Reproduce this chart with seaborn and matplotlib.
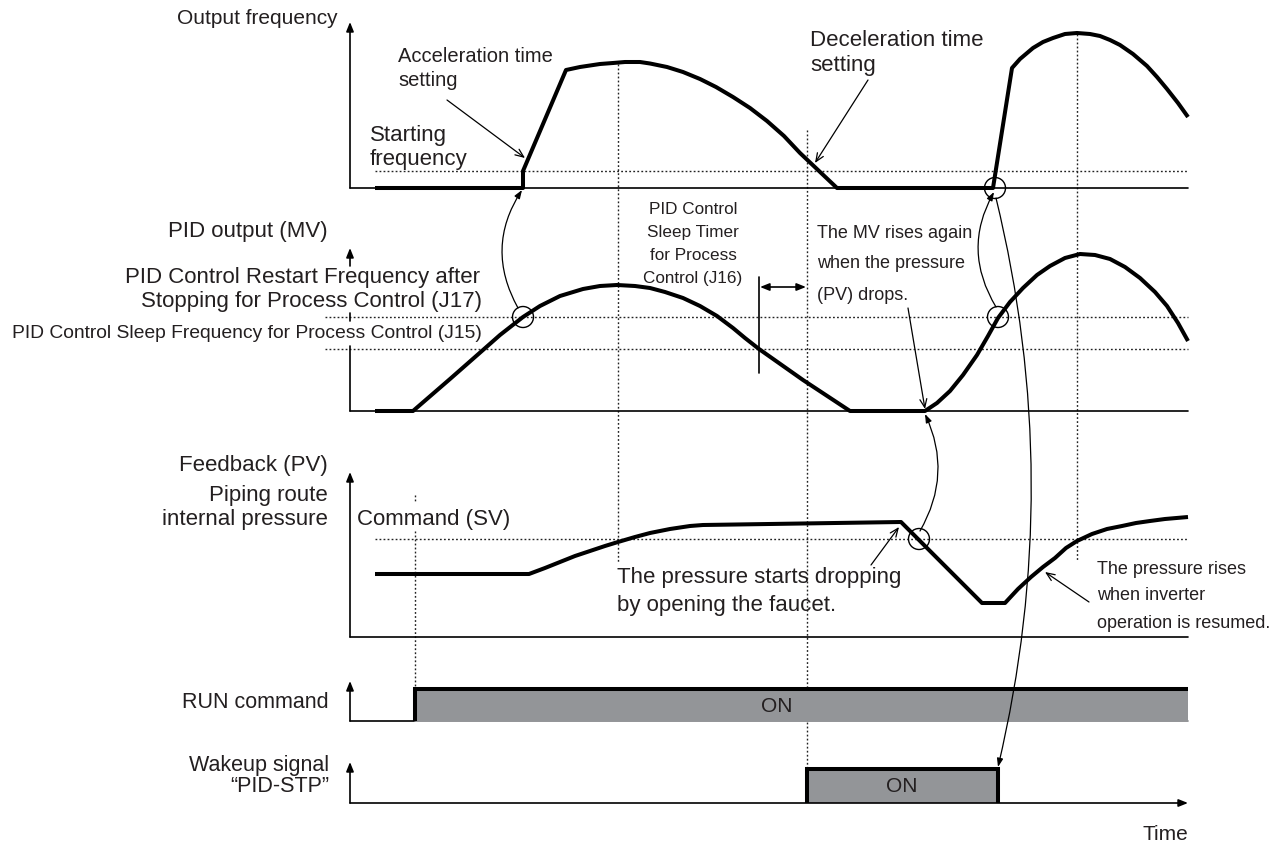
import numpy as np
import pandas as pd
import matplotlib
matplotlib.use("Agg")
import matplotlib.pyplot as plt
import seaborn as sns
from matplotlib.patches import FancyArrowPatch, Circle

# ---------------- data (time in diagram units, level = height above panel baseline) -------------
freq_time = [375, 523, 523, 566, 580, 600, 613, 625, 640, 650, 667, 683, 700, 716, 733, 750, 767,
             784, 800, 837, 993, 1012, 1020, 1033, 1043, 1053, 1065, 1077, 1090, 1100, 1110,
             1120, 1133, 1147, 1157, 1167, 1178, 1188]
freq_level = [0, 0, 17, 118, 121, 124, 125, 126, 126, 124.5, 121, 116, 109, 101, 91, 80, 67,
              52, 35, 0, 0, 120, 129, 140, 146, 150, 154, 155, 154, 152, 148,
              143, 134, 122, 111, 99, 85, 71]

pid_time = [375, 413, 450, 483, 500, 523, 540, 560, 583, 600, 617, 635, 650, 665, 683, 700,
            717, 733, 745, 759, 803, 850, 925, 937, 950, 963, 977, 988, 998, 1010, 1023,
            1037, 1050, 1065, 1080, 1095, 1110, 1125, 1140, 1155, 1167, 1178, 1188]
pid_level = [0, 0, 32, 61, 76, 94, 105, 115, 122, 125, 126, 125, 123, 119, 113, 105,
             95, 83, 73, 62, 31, 0, 0, 8, 20, 36, 56, 75, 93, 109, 123,
             136, 145, 153, 157, 156, 152, 144, 133, 119, 105, 88, 70]

pv_time = [375, 529, 545, 560, 575, 590, 605, 618, 635, 650, 670, 690, 703, 901, 982, 1005,
           1018, 1031, 1043, 1055, 1066, 1077, 1092, 1107, 1122, 1136, 1150, 1165, 1188]
pv_level = [63, 63, 69, 75, 81, 86, 91, 95, 100, 104, 108, 111, 112, 115, 34, 34,
            48, 60, 70, 79, 89, 96, 103, 108, 111, 114, 116, 118, 120]

run_time = [350, 415, 415, 1188]
run_state = [0, 0, 1, 1]
stp_time = [350, 807, 807, 998, 998, 1188]
stp_state = [0, 0, 1, 1, 0, 0]

start_freq_level = 17      # Starting frequency
restart_level = 94         # J17
sleep_level = 62           # J15
sv_level = 98              # Command (SV)

t_peak1, t_sleep_start, t_sleep_end, t_peak2, t_run = 618, 759, 807, 1077, 415

# ---------------- layout ----------------
BASE = dict(freq=188, pid=411, pv=637, run=721, stp=803)
ON_H = dict(run=32, stp=34)
AX_X, T0, T_END = 350, 375, 1188

sns.set_theme(style="white")
plt.rcParams['font.family'] = ['Liberation Sans', 'DejaVu Sans']

fig = plt.figure(figsize=(12.83, 8.48), dpi=100)
ax = fig.add_axes([0, 0, 1, 1])

K = 'black'
THIN = 1.2
THICK = 2.9
DOT = dict(ls=(0, (1.3, 1.6)), lw=1.0, color='#222222', zorder=1)


def yv(panel, level):
    return BASE[panel] - level


def trace(time, level, panel):
    df = pd.DataFrame({'t': time, 'y': [yv(panel, v) for v in level]})
    sns.lineplot(data=df, x='t', y='y', ax=ax, sort=False, estimator=None,
                 color=K, lw=THICK, solid_capstyle='butt', solid_joinstyle='round', zorder=4)


def arrow(p0, p1, style='-|>,head_length=0.55,head_width=0.22', lw=THIN, rad=0.0, ms=10, z=3):
    a = FancyArrowPatch(p0, p1, arrowstyle=style, mutation_scale=ms, lw=lw, color=K,
                        shrinkA=0, shrinkB=0, connectionstyle=f'arc3,rad={rad}', zorder=z)
    ax.add_patch(a)


def hline(y, x0, x1, **kw):
    ax.plot([x0, x1], [y, y], **kw)


def vline(x, y0, y1, **kw):
    ax.plot([x, x], [y0, y1], **kw)


def txt(x, y, s, size, ha='left'):
    ax.text(x, y, s, fontsize=size, ha=ha, va='center', color='#231f20', zorder=6)


# ---------------- axes of each panel ----------------
arrow((AX_X, BASE['freq']), (AX_X, 22))
hline(BASE['freq'], AX_X, T_END, color=K, lw=THIN)
# PID panel axis is partly hidden behind labels
arrow((AX_X, 266), (AX_X, 248))
vline(AX_X, 313, 321, color=K, lw=THIN)
vline(AX_X, 346, BASE['pid'], color=K, lw=THIN)
hline(BASE['pid'], AX_X, T_END, color=K, lw=THIN)
arrow((AX_X, BASE['pv']), (AX_X, 472))
hline(BASE['pv'], AX_X, T_END, color=K, lw=THIN)
arrow((AX_X, BASE['run']), (AX_X, 681))
hline(BASE['run'], AX_X, t_run, color=K, lw=THIN)
hline(BASE['run'], t_run, T_END, color='#808285', lw=THIN)
arrow((AX_X, BASE['stp']), (AX_X, 762))
arrow((AX_X, BASE['stp']), (T_END, BASE['stp']))

# ---------------- reference dotted lines ----------------
hline(yv('freq', start_freq_level), T0, T_END, **DOT)
hline(yv('pid', restart_level), 325, T_END, **DOT)
hline(yv('pid', sleep_level), 325, T_END, **DOT)
hline(yv('pv', sv_level), T0, T_END, **DOT)
vline(t_peak1, 64, 562, **DOT)
vline(t_sleep_end, 130, 768, **DOT)
vline(t_peak2, 34, 560, **DOT)
vline(t_run, 495, 503, **DOT)
vline(t_run, 531, 689, **DOT)

# ---------------- waveforms ----------------
trace(freq_time, freq_level, 'freq')
trace(pid_time, pid_level, 'pid')
trace(pv_time, pv_level, 'pv')

GRAY = '#939598'
for name, tt, ss in (('run', run_time, run_state), ('stp', stp_time, stp_state)):
    b, h = BASE[name], ON_H[name]
    ax.fill_between(tt, [b - s * h for s in ss], b, color=GRAY, lw=0, zorder=2)
    n = len(tt)
    idx = [i for i in range(n)
           if ss[i] == 1 or (i > 0 and ss[i - 1] == 1 and tt[i - 1] == tt[i])
           or (i < n - 1 and ss[i + 1] == 1 and tt[i + 1] == tt[i])]
    ax.plot([tt[i] for i in idx], [b - ss[i] * h for i in idx], color=K, lw=THICK,
            solid_joinstyle='miter', solid_capstyle='butt', zorder=4)

# sleep timer marker
vline(t_sleep_start, 277, 373, color=K, lw=THIN, zorder=4)
arrow((t_sleep_start + 1, 287), (t_sleep_end - 1, 287), style='<|-|>,head_length=0.55,head_width=0.22')

# ---------------- circles and linking arrows ----------------
for cx, cy in ((523, yv('pid', restart_level)), (995, BASE['freq']),
               (998, yv('pid', restart_level)), (919, yv('pv', sv_level))):
    ax.add_patch(Circle((cx, cy), 10.5, fill=False, lw=1.0, ec=K, zorder=5))

SMALL = '-|>,head_length=0.5,head_width=0.18'
arrow((518, 308), (522, 190), style=SMALL, lw=0.9, rad=-0.3)
arrow((996, 307), (994, 192), style=SMALL, lw=0.9, rad=-0.29)
arrow((996, 198), (998, 767), style=SMALL, lw=0.9, rad=-0.12)
arrow((920, 531), (925, 414), style=SMALL, lw=0.9, rad=0.26)

OPEN = '->,head_length=0.6,head_width=0.25'
arrow((447, 100), (525, 158), style=OPEN, lw=0.9)
arrow((868, 80), (815, 163), style=OPEN, lw=0.9)
arrow((908, 308), (925, 409), style=OPEN, lw=0.9)
arrow((871, 565), (899, 527), style=OPEN, lw=0.9)
arrow((1089, 602), (1045, 572), style=OPEN, lw=0.9)

# ---------------- texts ----------------
txt(338, 18, 'Output frequency', 15, 'right')
txt(398, 56, 'Acceleration time', 14.5)
txt(398, 80, 'setting', 14.5)
txt(370, 135, 'Starting', 16)
txt(370, 160, 'frequency', 16)
txt(810, 40, 'Deceleration time', 16)
txt(810, 65, 'setting', 16)

txt(328, 232, 'PID output (MV)', 16, 'right')
txt(480, 277, 'PID Control Restart Frequency after', 16, 'right')
txt(482, 302, 'Stopping for Process Control (J17)', 16, 'right')
txt(482, 333, 'PID Control Sleep Frequency for Process Control (J15)', 13.9, 'right')
for yy, s in zip((209, 233, 256, 278), ('PID Control', 'Sleep Timer', 'for Process', 'Control (J16)')):
    txt(693, yy, s, 12.3, 'center')
for yy, s in zip((233, 263, 295), ('The MV rises again', 'when the pressure', '(PV) drops.')):
    txt(817, yy, s, 13)

txt(328, 465, 'Feedback (PV)', 16, 'right')
txt(328, 496, 'Piping route', 16, 'right')
txt(328, 520, 'internal pressure', 16, 'right')
txt(357, 519, 'Command (SV)', 16)
txt(617, 577, 'The pressure starts dropping', 16)
txt(617, 605, 'by opening the faucet.', 16)
for yy, s in zip((569, 596, 623), ('The pressure rises', 'when inverter', 'operation is resumed.')):
    txt(1097, yy, s, 13)

txt(329, 702, 'RUN command', 15.5, 'right')
txt(329, 765, 'Wakeup signal', 15.5, 'right')
txt(329, 786, '\u201cPID-STP\u201d', 15.5, 'right')
txt(777, 706, 'ON', 15, 'center')
txt(902, 787, 'ON', 15, 'center')
txt(1188, 834, 'Time', 15, 'right')

ax.set_xlim(0, 1283)
ax.set_ylim(848, 0)
ax.axis('off')
fig.savefig('out.png', dpi=100, facecolor='white')
